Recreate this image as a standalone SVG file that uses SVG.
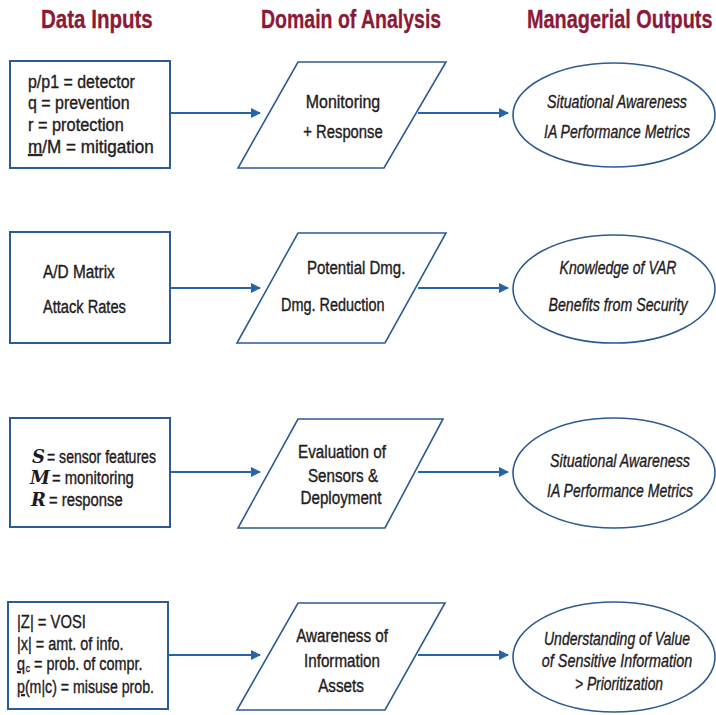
<svg xmlns="http://www.w3.org/2000/svg" width="716" height="715" viewBox="0 0 716 715">
<defs>
<style>
.hdr{font-family:"Liberation Sans",Arial,sans-serif;font-weight:bold;font-size:26px;fill:#8c1a36;stroke:#8c1a36;stroke-width:0.3}
.t{font-family:"Liberation Sans",Arial,sans-serif;font-size:19px;fill:#1f1c1d;stroke:#1f1c1d;stroke-width:0.4}
.ti{font-family:"Liberation Sans",Arial,sans-serif;font-size:18px;font-style:italic;fill:#1f1c1d;stroke:#1f1c1d;stroke-width:0.35;text-anchor:middle}
.c{text-anchor:middle}
.box{fill:#fff;stroke:#2c5b93;stroke-width:2}
.shape{fill:#fff;stroke:#2c5b93;stroke-width:1.6}
.conn{stroke:#2565a8;stroke-width:2;fill:none;marker-end:url(#ah)}
.sc{font-family:"DejaVu Serif",serif;font-style:italic;font-weight:bold;font-size:18px;fill:#1f1c1d}
</style>
<marker id="ah" viewBox="0 0 10 10" refX="9" refY="5" markerWidth="5" markerHeight="5" orient="auto" markerUnits="strokeWidth">
<path d="M0,0 L10,5 L0,10 z" fill="#2565a8"/>
</marker>
</defs>
<rect width="716" height="715" fill="#fff"/>

<g id="headers">
<text class="hdr" transform="translate(41,28) scale(0.79,1)">Data Inputs</text>
<text class="hdr" transform="translate(261,28) scale(0.75,1)">Domain of Analysis</text>
<text class="hdr" transform="translate(527,28) scale(0.765,1)">Managerial Outputs</text>
</g>

<g id="connectors">
<line class="conn" x1="171" y1="113" x2="260" y2="113"/>
<line class="conn" x1="418" y1="113" x2="508" y2="113"/>
<line class="conn" x1="171" y1="288" x2="260" y2="288"/>
<line class="conn" x1="418" y1="288" x2="508" y2="288"/>
<line class="conn" x1="171" y1="472" x2="260" y2="472"/>
<line class="conn" x1="418" y1="472" x2="508" y2="472"/>
<line class="conn" x1="169" y1="655" x2="260" y2="655"/>
<line class="conn" x1="418" y1="655" x2="508" y2="655"/>
</g>

<g id="input1">
<rect class="box" x="10" y="61" width="160" height="107"/>
<text class="t" transform="translate(28,88) scale(0.84,1)">p/p1 = detector</text>
<text class="t" transform="translate(28,109) scale(0.84,1)">q = prevention</text>
<text class="t" transform="translate(28,131) scale(0.86,1)">r = protection</text>
<text class="t" transform="translate(28,153) scale(0.9,1)"><tspan text-decoration="underline">m</tspan>/M = mitigation</text>
</g>

<g id="analysis1">
<polygon class="shape" points="298,62 446,62 384,168 238,168"/>
<text class="t c" transform="translate(343,108) scale(0.84,1)">Monitoring</text>
<text class="t c" transform="translate(343,138) scale(0.78,1)">+ Response</text>
</g>

<g id="output1">
<ellipse class="shape" cx="614" cy="115" rx="101" ry="52"/>
<text class="ti" transform="translate(617,108) scale(0.79,1)">Situational Awareness</text>
<text class="ti" transform="translate(617,138) scale(0.78,1)">IA Performance Metrics</text>
</g>

<g id="input2">
<rect class="box" x="10" y="232" width="160" height="111"/>
<text class="t" transform="translate(43,278) scale(0.81,1)">A/D Matrix</text>
<text class="t" transform="translate(43,313) scale(0.77,1)">Attack Rates</text>
</g>

<g id="analysis2">
<polygon class="shape" points="298,233 446,233 385,343 237,343"/>
<text class="t" transform="translate(307,274) scale(0.79,1)">Potential Dmg.</text>
<text class="t" transform="translate(281,311) scale(0.76,1)">Dmg. Reduction</text>
</g>

<g id="output2">
<ellipse class="shape" cx="614" cy="289" rx="101" ry="54"/>
<text class="ti" transform="translate(618,274) scale(0.78,1)">Knowledge of VAR</text>
<text class="ti" transform="translate(618,311) scale(0.79,1)">Benefits from Security</text>
</g>

<g id="input3">
<rect class="box" x="10" y="418" width="160" height="109"/>
<text class="sc" x="32" y="463">S</text>
<text class="t" transform="translate(47,463) scale(0.74,1)">= sensor features</text>
<text class="sc" x="30" y="484">M</text>
<text class="t" transform="translate(52,484) scale(0.78,1)">= monitoring</text>
<text class="sc" x="31" y="506">R</text>
<text class="t" transform="translate(49,506) scale(0.78,1)">= response</text>
</g>

<g id="analysis3">
<polygon class="shape" points="298,419 443,419 385,528 238,528"/>
<text class="t c" transform="translate(342,458) scale(0.8,1)">Evaluation of</text>
<text class="t c" transform="translate(343,482) scale(0.8,1)">Sensors &amp;</text>
<text class="t c" transform="translate(341,504) scale(0.8,1)">Deployment</text>
</g>

<g id="output3">
<ellipse class="shape" cx="614" cy="473" rx="101" ry="55"/>
<text class="ti" transform="translate(620,467) scale(0.79,1)">Situational Awareness</text>
<text class="ti" transform="translate(620,497) scale(0.78,1)">IA Performance Metrics</text>
</g>

<g id="input4">
<rect class="box" x="8" y="602" width="160" height="107"/>
<text class="t" transform="translate(17,628) scale(0.78,1)">|Z| = VOSI</text>
<text class="t" transform="translate(17,650) scale(0.76,1)">|x| = amt. of info.</text>
<text class="t" transform="translate(17,670) scale(0.76,1)"><tspan text-decoration="underline">q</tspan><tspan font-size="11" dx="1" dy="2">c</tspan><tspan dy="-2"> = prob. of compr.</tspan></text>
<text class="t" transform="translate(17,693) scale(0.745,1)"><tspan text-decoration="underline">p</tspan>(m|c) = misuse prob.</text>
</g>

<g id="analysis4">
<polygon class="shape" points="298,603 445,603 385,710 237,710"/>
<text class="t c" transform="translate(342,642) scale(0.8,1)">Awareness of</text>
<text class="t c" transform="translate(342,667) scale(0.8,1)">Information</text>
<text class="t c" transform="translate(341,692) scale(0.8,1)">Assets</text>
</g>

<g id="output4">
<ellipse class="shape" cx="614" cy="657" rx="101" ry="55"/>
<text class="ti" transform="translate(617,645) scale(0.78,1)">Understanding of Value</text>
<text class="ti" transform="translate(617,667) scale(0.8,1)">of Sensitive Information</text>
<text class="ti" transform="translate(619,690) scale(0.77,1)">&gt; Prioritization</text>
</g>
</svg>
